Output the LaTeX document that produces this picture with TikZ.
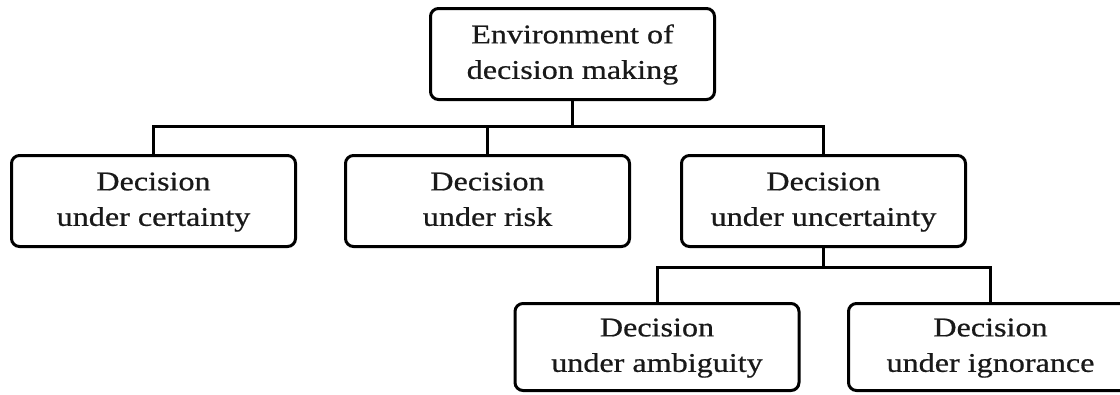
\documentclass[tikz,border=0pt]{standalone}
\usepackage{fontspec}
\usepackage{graphicx}
\newfontfamily\boxfont{Liberation Serif}[FakeBold=0.6]
\newcommand{\twolines}[2]{\scalebox{1.19}[1]{\begin{tabular}{@{}c@{}}#1\\#2\end{tabular}}}
\begin{document}
\begin{tikzpicture}[x=1pt,y=-1pt,
  box/.style={draw=black, line width=3pt, rounded corners=8pt, inner sep=0pt,
    minimum width=284pt, align=center,
    font=\boxfont\fontsize{27}{35.5}\selectfont, text=black!90},
  conn/.style={draw=black, line width=3pt}]
\useasboundingbox (0,0) rectangle (1120,394);
\clip (0,0) rectangle (1120,394);
\node[box, minimum height=91pt] (top) at (572.5,54) {\twolines{Environment of}{decision making}};
\node[box, minimum height=91pt] (L) at (153.5,201) {\twolines{Decision}{under certainty}};
\node[box, minimum height=91pt] (M) at (487.5,201) {\twolines{Decision}{under risk}};
\node[box, minimum height=91pt] (R) at (823.5,201) {\twolines{Decision}{under uncertainty}};
\node[box, minimum height=87pt] (BL) at (657,347) {\twolines{Decision}{under ambiguity}};
\node[box, minimum height=87pt] (BR) at (990.5,347) {\twolines{Decision}{under ignorance}};
\coordinate (bus1) at (572.5,126);
\coordinate (bus2) at (823.5,267);
\draw[conn] (top.south) -- (bus1);
\draw[conn] (L.north) |- (bus1) -| (R.north);
\draw[conn] (M.north) -- (M.north |- bus1);
\draw[conn] (R.south) -- (bus2);
\draw[conn] (BL.north) |- (bus2) -| (BR.north);
\end{tikzpicture}
\end{document}
